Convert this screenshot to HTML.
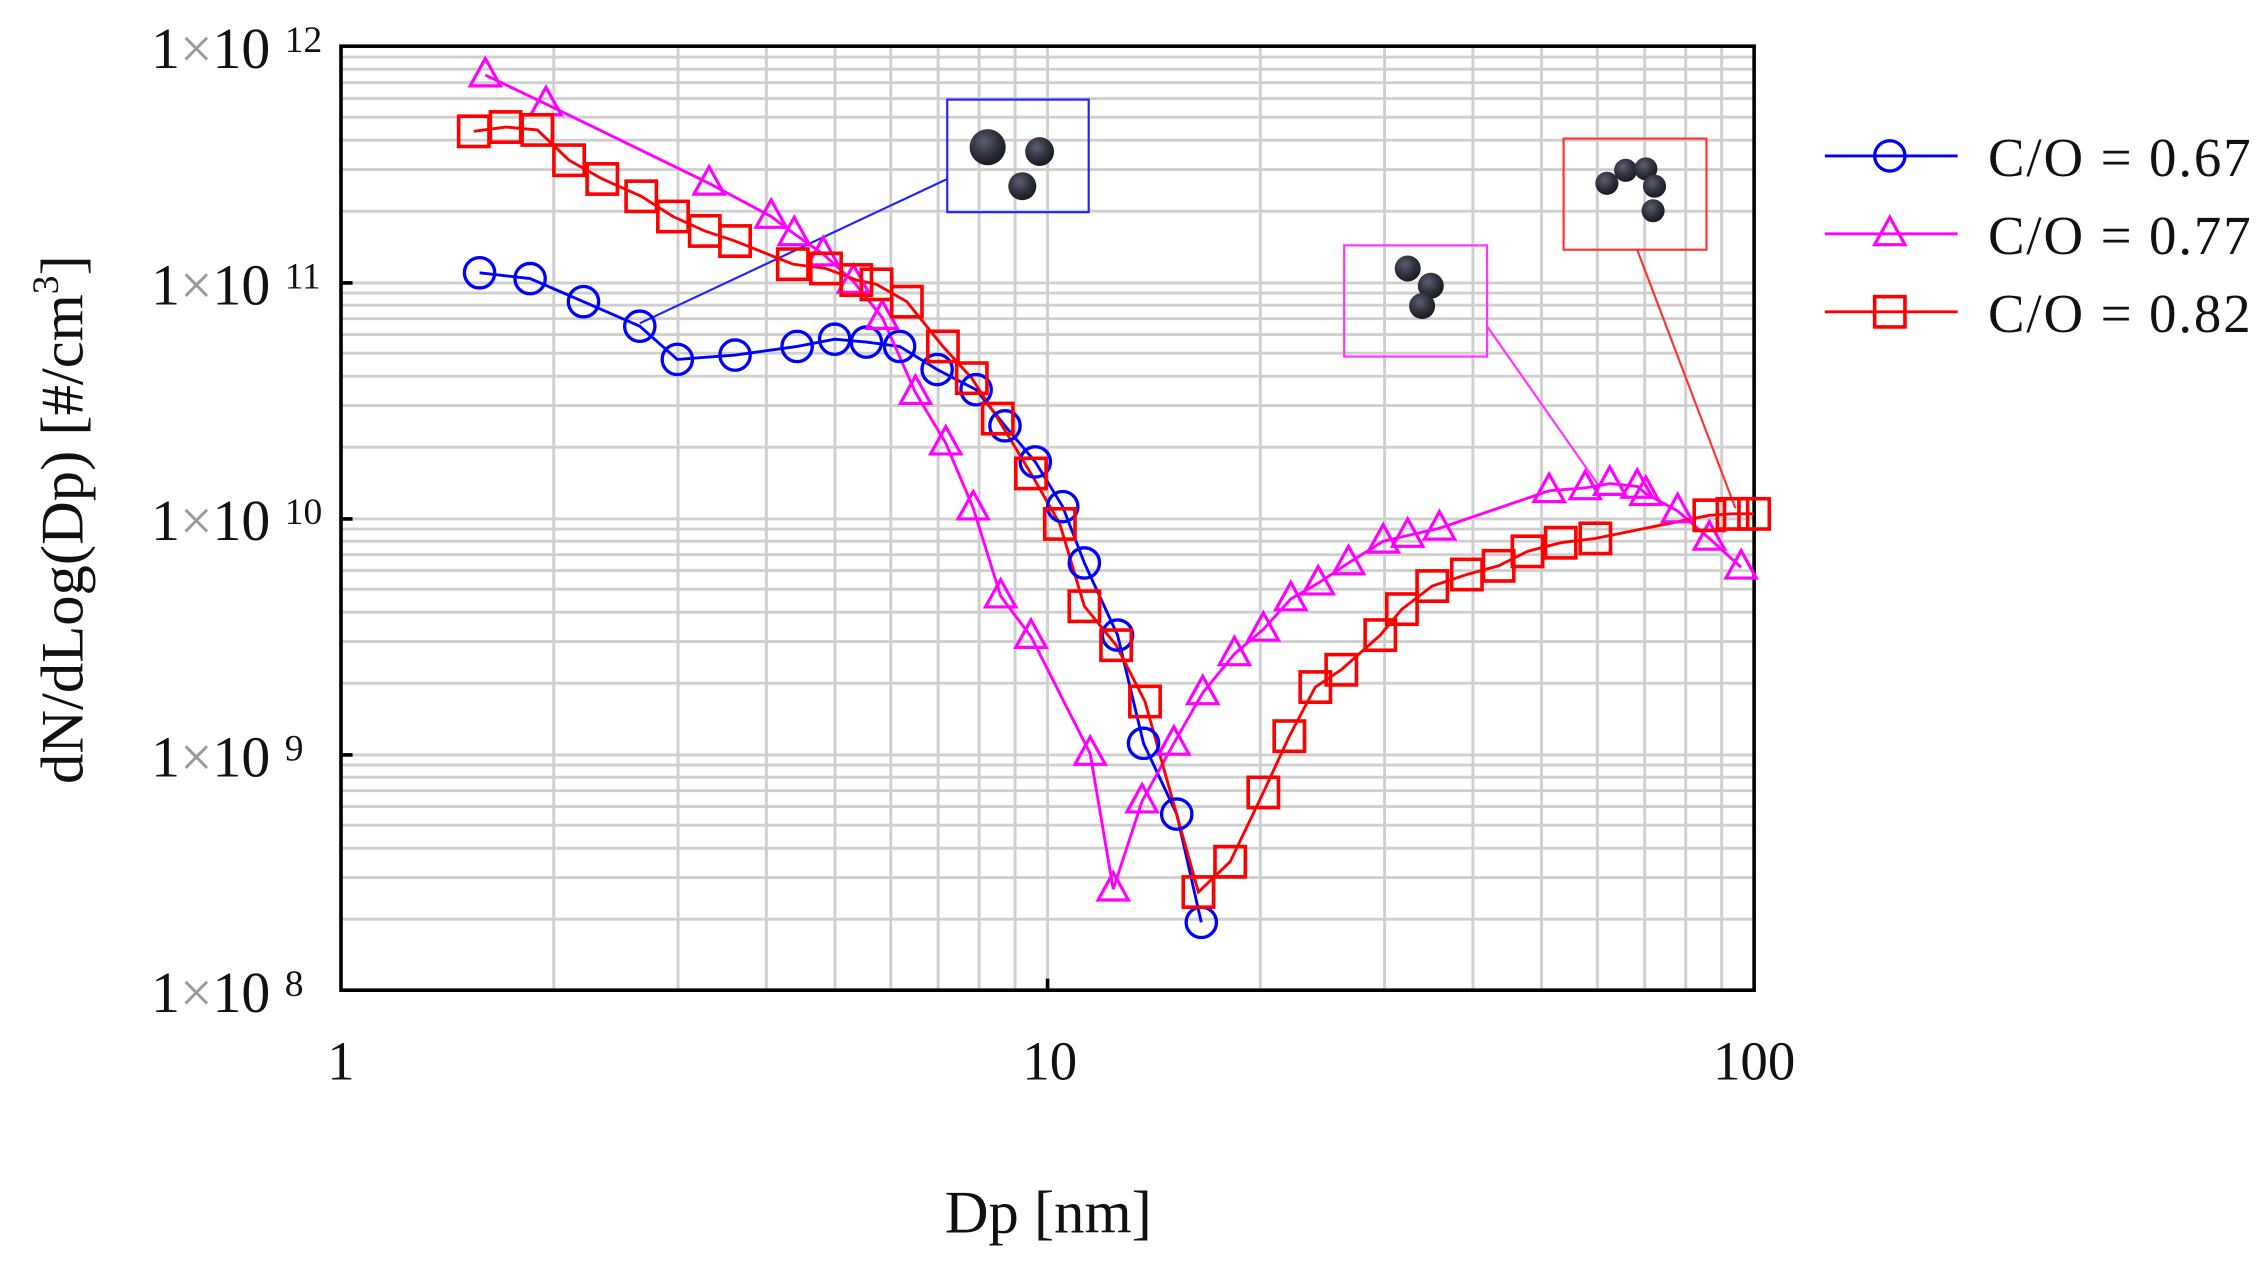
<!DOCTYPE html>
<html><head><meta charset="utf-8"><style>
html,body{margin:0;padding:0;background:#fff;}
svg{display:block;}
text{font-family:"Liberation Serif",serif;fill:#111;}
</style></head><body>
<svg width="2264" height="1263" viewBox="0 0 1568 875" xmlns="http://www.w3.org/2000/svg">
<defs>
<radialGradient id="sp" cx="0.4" cy="0.35" r="0.7">
<stop offset="0" stop-color="#5a6070"/><stop offset="0.6" stop-color="#2a2e38"/><stop offset="1" stop-color="#15171c"/>
</radialGradient>
<circle id="c" r="10.5" fill="none" stroke="#0000ff" stroke-width="2.3"/>
<path id="t" d="M0,-11.5 L10.5,7.5 L-10.5,7.5 Z" fill="none" stroke="#ff00ff" stroke-width="2.2"/>
<rect id="s" x="-10.5" y="-10.5" width="21" height="21" fill="none" stroke="#ff0000" stroke-width="2.5"/>
</defs>
<g stroke="#cfcfcf" stroke-width="2" fill="none">
<path d="M383.4 32V686M469.5 32V686M530.7 32V686M578.2 32V686M616.9 32V686M649.7 32V686M678.1 32V686M703 32V686M725.5 32V686M872.9 32V686M959 32V686M1020.2 32V686M1067.7 32V686M1106.4 32V686M1139.2 32V686M1167.6 32V686M1192.5 32V686"/>
<path d="M236 146.3H1215M236 117.5H1215M236 97.1H1215M236 81.2H1215M236 68.3H1215M236 57.3H1215M236 47.9H1215M236 39.5H1215
M236 196H1215M236 309.8H1215M236 281H1215M236 260.6H1215M236 244.7H1215M236 231.8H1215M236 220.8H1215M236 211.4H1215M236 203H1215
M236 359.5H1215M236 473.3H1215M236 444.5H1215M236 424.1H1215M236 408.2H1215M236 395.3H1215M236 384.3H1215M236 374.9H1215M236 366.5H1215
M236 523H1215M236 636.8H1215M236 608H1215M236 587.6H1215M236 571.7H1215M236 558.8H1215M236 547.8H1215M236 538.4H1215M236 530H1215"/>
</g>
<rect x="236" y="32" width="979" height="654" fill="none" stroke="#000" stroke-width="2.5"/>
<path d="M236 196h8M236 359.5h8M236 523h8M725.5 686v-8" stroke="#000" stroke-width="2.5"/>
<g font-size="40">
<text x="187" y="47" text-anchor="end">1<tspan fill="#999">×</tspan>10</text><text x="197" y="36" font-size="26">12</text>
<text x="187" y="211" text-anchor="end">1<tspan fill="#999">×</tspan>10</text><text x="197" y="200" font-size="26">11</text>
<text x="187" y="374" text-anchor="end">1<tspan fill="#999">×</tspan>10</text><text x="197" y="363" font-size="26">10</text>
<text x="187" y="538" text-anchor="end">1<tspan fill="#999">×</tspan>10</text><text x="197" y="527" font-size="26">9</text>
<text x="187" y="701" text-anchor="end">1<tspan fill="#999">×</tspan>10</text><text x="197" y="690" font-size="26">8</text>
</g>
<g font-size="38" text-anchor="middle">
<text x="236" y="748">1</text><text x="727" y="748">10</text><text x="1215" y="748">100</text>
<text x="726" y="854" font-size="42">Dp [nm]</text>
</g>
<text transform="translate(57,360) rotate(-90)" font-size="42" text-anchor="middle">dN/dLog(Dp) [#/cm<tspan font-size="26" dy="-17">3</tspan><tspan dy="17">]</tspan></text>
<g fill="none" stroke-width="1.5">
<rect x="656" y="69" width="98" height="78" stroke="#2222ff"/>
<path d="M443 224L656 124" stroke="#2222ff"/>
<rect x="931" y="170" width="99" height="77" stroke="#ff33ff"/>
<path d="M1030 226L1107 336" stroke="#ff33ff"/>
<rect x="1083" y="96" width="99" height="77" stroke="#ff3333"/>
<path d="M1134 173L1202 352" stroke="#ff3333"/>
</g>
<g fill="url(#sp)">
<circle cx="684" cy="102" r="12.5"/><circle cx="720" cy="105" r="10"/><circle cx="708" cy="129" r="9.7"/>
<circle cx="975" cy="186" r="9"/><circle cx="991" cy="198" r="9"/><circle cx="985" cy="212" r="9"/>
<circle cx="1113" cy="127" r="8"/><circle cx="1126" cy="118" r="8"/><circle cx="1140" cy="117" r="8"/><circle cx="1146" cy="129" r="8"/><circle cx="1145" cy="146" r="8"/>
</g>
<polyline fill="none" stroke="#0000ff" stroke-width="2" points="332,189 367,193 404,209 443,226 469,249 509,246 552,240 578,235 600,237 623,240 649,256 676,270 696,295 717,320 736,351 751,390 774,440 792,515 815,564 832,639"/>
<polyline fill="none" stroke="#ff00ff" stroke-width="2" points="336,52 378,72 491,127 534,150 550,162 570,176 591,195 611,220 634,272 655,307 674,352 693,413 714,441 755,522 771,616 791,555 813,515 833,480 855,453 875,436 894,415 913,404 934,390 958,375 975,371 997,366 1073,340 1098,338 1115,335 1134,337 1140,342 1162,354 1184,373 1206,393"/>
<polyline fill="none" stroke="#ff0000" stroke-width="2" points="328,91 350,88 372,90 394,111 417,124 444,136 466,150 488,160 509,167 549,183 572,186 593,194 607,197 628,209 653,240 673,262 691,290 714,328 734,363 751,420 773,447 793,486 830,618 852,597 875,549 893,510 911,476 929,464 956,440 971,422 992,406 1016,398 1038,392 1058,382 1081,376 1105,373 1184,357 1200,356 1215,356"/>
<g>
<use href="#c" x="332" y="189"/><use href="#c" x="367" y="193"/><use href="#c" x="404" y="209"/><use href="#c" x="443" y="226"/><use href="#c" x="469" y="249"/><use href="#c" x="509" y="246"/><use href="#c" x="552" y="240"/><use href="#c" x="578" y="235"/><use href="#c" x="600" y="237"/><use href="#c" x="623" y="240"/><use href="#c" x="649" y="256"/><use href="#c" x="676" y="270"/><use href="#c" x="696" y="295"/><use href="#c" x="717" y="320"/><use href="#c" x="736" y="351"/><use href="#c" x="751" y="390"/><use href="#c" x="774" y="440"/><use href="#c" x="792" y="515"/><use href="#c" x="815" y="564"/><use href="#c" x="832" y="639"/>
</g>
<g>
<use href="#t" x="336" y="52"/><use href="#t" x="378" y="72"/><use href="#t" x="491" y="127"/><use href="#t" x="534" y="150"/><use href="#t" x="550" y="162"/><use href="#t" x="570" y="176"/><use href="#t" x="591" y="195"/><use href="#t" x="611" y="220"/><use href="#t" x="634" y="272"/><use href="#t" x="655" y="307"/><use href="#t" x="674" y="352"/><use href="#t" x="693" y="413"/><use href="#t" x="714" y="441"/><use href="#t" x="755" y="522"/><use href="#t" x="771" y="616"/><use href="#t" x="791" y="555"/><use href="#t" x="813" y="515"/><use href="#t" x="833" y="480"/><use href="#t" x="855" y="453"/><use href="#t" x="875" y="436"/><use href="#t" x="894" y="415"/><use href="#t" x="913" y="404"/><use href="#t" x="934" y="390"/><use href="#t" x="958" y="375"/><use href="#t" x="975" y="371"/><use href="#t" x="997" y="366"/><use href="#t" x="1073" y="340"/><use href="#t" x="1098" y="338"/><use href="#t" x="1115" y="335"/><use href="#t" x="1134" y="337"/><use href="#t" x="1140" y="342"/><use href="#t" x="1162" y="354"/><use href="#t" x="1184" y="373"/><use href="#t" x="1206" y="393"/>
</g>
<g>
<use href="#s" x="328" y="91"/><use href="#s" x="350" y="88"/><use href="#s" x="372" y="90"/><use href="#s" x="394" y="111"/><use href="#s" x="417" y="124"/><use href="#s" x="444" y="136"/><use href="#s" x="466" y="150"/><use href="#s" x="488" y="160"/><use href="#s" x="509" y="167"/><use href="#s" x="549" y="183"/><use href="#s" x="572" y="186"/><use href="#s" x="593" y="194"/><use href="#s" x="607" y="197"/><use href="#s" x="628" y="209"/><use href="#s" x="653" y="240"/><use href="#s" x="673" y="262"/><use href="#s" x="691" y="290"/><use href="#s" x="714" y="328"/><use href="#s" x="734" y="363"/><use href="#s" x="751" y="420"/><use href="#s" x="773" y="447"/><use href="#s" x="793" y="486"/><use href="#s" x="830" y="618"/><use href="#s" x="852" y="597"/><use href="#s" x="875" y="549"/><use href="#s" x="893" y="510"/><use href="#s" x="911" y="476"/><use href="#s" x="929" y="464"/><use href="#s" x="956" y="440"/><use href="#s" x="971" y="422"/><use href="#s" x="992" y="406"/><use href="#s" x="1016" y="398"/><use href="#s" x="1038" y="392"/><use href="#s" x="1058" y="382"/><use href="#s" x="1081" y="376"/><use href="#s" x="1105" y="373"/><use href="#s" x="1184" y="357"/><use href="#s" x="1200" y="356"/><use href="#s" x="1215" y="356"/>
</g>
<path d="M1264 108H1356" stroke="#0000ff" stroke-width="2"/><use href="#c" x="1309" y="108"/>
<path d="M1264 162H1356" stroke="#ff00ff" stroke-width="2"/><use href="#t" x="1309" y="162"/>
<path d="M1264 216H1356" stroke="#ff0000" stroke-width="2"/><use href="#s" x="1309" y="216"/>
<g font-size="38">
<text x="1377" y="122" textLength="182">C/O = 0.67</text>
<text x="1377" y="176" textLength="182">C/O = 0.77</text>
<text x="1377" y="230" textLength="182">C/O = 0.82</text>
</g>
</svg>
</body></html>
